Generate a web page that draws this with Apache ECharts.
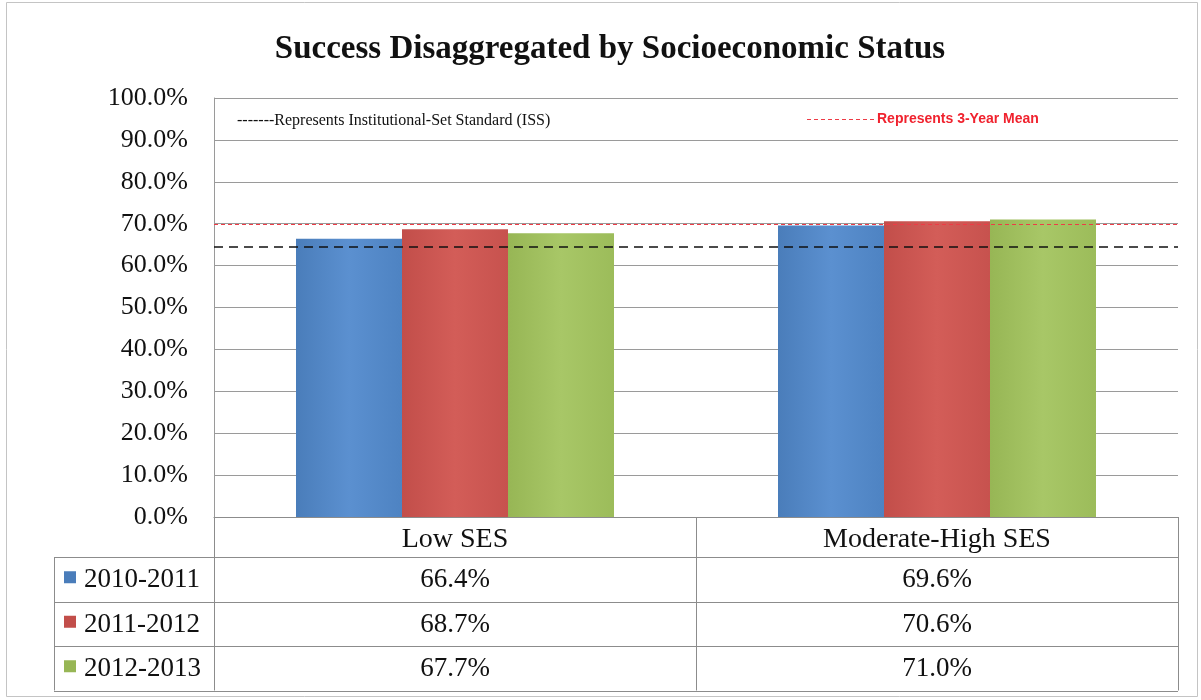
<!DOCTYPE html>
<html><head><meta charset="utf-8">
<script src="https://cdn.jsdelivr.net/npm/echarts@6/dist/echarts.min.js"></script>
<style>html,body{margin:0;padding:0;background:#fff}#c{width:1201px;height:700px}</style>
</head><body><div id="c"></div>
<script>
// ---- data ----
const categories = ['Low SES', 'Moderate-High SES'];
const seriesNames = ['2010-2011', '2011-2012', '2012-2013'];
const values2010 = [66.4, 69.6];
const values2011 = [68.7, 70.6];
const values2012 = [67.7, 71.0];
const issValue = 64.4;      // Institutional-Set Standard (black dashed)
const meanValue = 69.8;     // 3-Year Mean (red dashed)
const titleText = 'Success Disaggregated by Socioeconomic Status';
const issLabel = '-------Represents Institutional-Set Standard (ISS)';
const meanLabel = 'Represents 3-Year Mean';

// ---- styles ----
const serif = '"Liberation Serif","Times New Roman",serif';
const colors = [
  ['#4a7dba', '#5b90d0', '#4e83c2'],
  ['#c24e4a', '#d35d58', '#c7524e'],
  ['#97b655', '#a8c767', '#9cbc5a']
];
const seriesValues = [values2010, values2011, values2012];
const gridColor = '#9a9a9a';

function grad(c) {
  return new echarts.graphic.LinearGradient(0, 0, 1, 0, [
    {offset: 0, color: c[0]}, {offset: 0.5, color: c[1]}, {offset: 1, color: c[2]}
  ]);
}

const chart = echarts.init(document.getElementById('c'), null, {renderer: 'canvas'});

const series = seriesNames.map((name, i) => ({
  name: name,
  type: 'bar',
  data: seriesValues[i],
  barWidth: 106,
  barGap: '0%',
  itemStyle: {color: grad(colors[i])},
  silent: true,
  markLine: i === 0 ? {
    silent: true,
    symbol: 'none',
    label: {show: false},
    data: [
      {yAxis: meanValue, lineStyle: {color: '#ee3b46', type: [4, 3], width: 1}},
      {yAxis: issValue, lineStyle: {color: '#111', type: [9, 6], width: 1.5}}
    ]
  } : undefined,
  z: 2
}));

chart.setOption({
  animation: false,
  backgroundColor: '#fff',
  title: {
    text: titleText,
    left: 605, textAlign: 'center', top: 28,
    textStyle: {fontFamily: serif, fontWeight: 'bold', fontSize: 33, color: '#111'}
  },
  grid: {left: 214, right: 23, top: 98, bottom: 183, containLabel: false},
  xAxis: {
    type: 'category',
    data: categories,
    axisLine: {show: true, lineStyle: {color: '#8c8c8c', width: 1}},
    axisTick: {show: true, length: 40, lineStyle: {color: '#8c8c8c'}},
    axisLabel: {margin: 9, fontFamily: serif, fontSize: 28, color: '#111'}
  },
  yAxis: {
    type: 'value',
    min: 0, max: 100, interval: 10,
    axisLine: {show: true, lineStyle: {color: '#9a9a9a'}},
    axisTick: {show: false},
    splitLine: {lineStyle: {color: gridColor, width: 1}},
    axisLabel: {
      margin: 26, fontFamily: serif, fontSize: 26, color: '#111',
      formatter: v => v.toFixed(1) + '%'
    }
  },
  series: series
});

// ---- data table & annotations ----
const c0 = chart.convertToPixel({xAxisIndex: 0}, 0);
const c1 = chart.convertToPixel({xAxisIndex: 0}, 1);
const band = c1 - c0;
const leftX = c0 - band / 2;
const rightX = c1 + band / 2;
const midX = c0 + band / 2;
const axisY = chart.convertToPixel({yAxisIndex: 0}, 0);
const headerBottom = axisY + 40;
const rowH = 44.5;
const tableLeft = 54;
const lineStyle = {stroke: '#8c8c8c', lineWidth: 1};
const els = [];

// frame
els.push({type: 'rect', shape: {x: 6.5, y: 2.5, width: 1191, height: 694}, style: {fill: 'none', stroke: '#c4c4c4', lineWidth: 1}, z: 0, silent: true});

// horizontal lines
for (let r = 0; r <= seriesNames.length; r++) {
  const y = Math.round(headerBottom + r * rowH) + 0.5;
  els.push({type: 'line', shape: {x1: tableLeft, y1: y, x2: rightX, y2: y}, style: lineStyle, silent: true});
}
// vertical lines
[tableLeft, leftX, midX, rightX].forEach(x => {
  const xx = Math.round(x) + 0.5;
  els.push({type: 'line', shape: {x1: xx, y1: headerBottom, x2: xx, y2: headerBottom + seriesNames.length * rowH}, style: lineStyle, silent: true});
});
// rows
seriesNames.forEach((name, i) => {
  const cy = headerBottom + i * rowH + rowH / 2;
  els.push({type: 'rect', shape: {x: 64, y: cy - 8, width: 12, height: 12}, style: {fill: colors[i][0]}, silent: true});
  els.push({type: 'text', x: 84, y: cy + 1, style: {text: name, font: '27px ' + serif, fill: '#111', textVerticalAlign: 'middle', textAlign: 'left'}, silent: true});
  seriesValues[i].forEach((v, j) => {
    const cx = chart.convertToPixel({xAxisIndex: 0}, j);
    els.push({type: 'text', x: cx, y: cy + 1, style: {text: v.toFixed(1) + '%', font: '27px ' + serif, fill: '#111', textVerticalAlign: 'middle', textAlign: 'center'}, silent: true});
  });
});
// annotations
els.push({type: 'text', x: 237, y: 121, style: {text: issLabel, font: '16px ' + serif, fill: '#111', textVerticalAlign: 'middle'}, silent: true});
els.push({type: 'line', shape: {x1: 807, y1: 119.5, x2: 875, y2: 119.5}, style: {stroke: '#ee3b46', lineWidth: 1, lineDash: [4, 3]}, silent: true});
els.push({type: 'text', x: 877, y: 119, style: {text: meanLabel, font: 'bold 14px "Liberation Sans Narrow","Liberation Sans",Arial,sans-serif', fill: '#f0222e', textVerticalAlign: 'middle'}, silent: true});

chart.setOption({graphic: {elements: els}});
</script>
</body></html>
